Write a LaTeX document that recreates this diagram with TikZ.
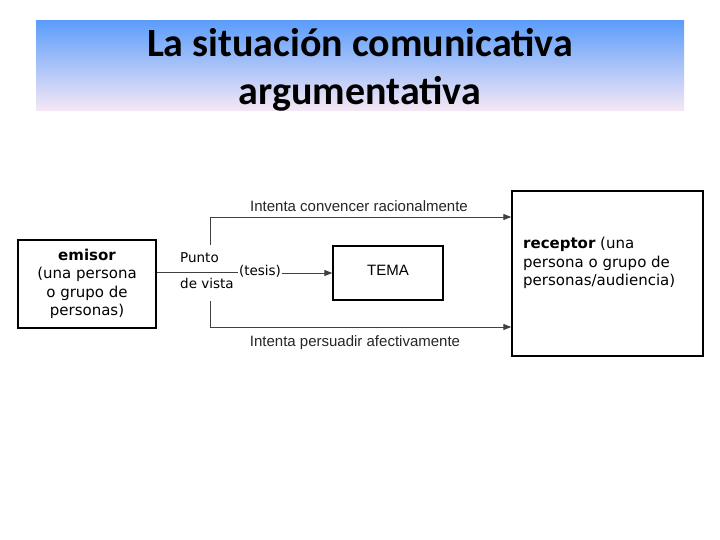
\documentclass[tikz,border=0pt]{standalone}
\usepackage{fontspec}
\setmainfont{DejaVu Sans}
\newfontfamily\titlefont{Carlito}
\newfontfamily\labelfont{Liberation Sans}
\usetikzlibrary{arrows.meta,calc}
\begin{document}
\begin{tikzpicture}[x=1pt,y=-1pt,
  boxnode/.style={draw=black,line width=1.4pt,rectangle,inner sep=0pt},
  conn/.style={draw=black!75,line width=0.9pt},
  arr/.style={conn,-{Triangle[length=8pt,width=6pt]}},
  smalllabel/.style={font=\labelfont\fontsize{15}{17}\selectfont,text=black!85,inner sep=1pt},
  midlabel/.style={font=\fontsize{13.5}{15}\selectfont,inner sep=0pt},
  boxtext/.style={font=\fontsize{15}{18.5}\selectfont,align=center,inner sep=0pt}
]
\useasboundingbox (0,0) rectangle (720,540);
\fill[white] (0,0) rectangle (720,540);
% title bar
\shade[top color={rgb,255:red,92;green,157;blue,250},middle color={rgb,255:red,175;green,205;blue,242},bottom color={rgb,255:red,246;green,232;blue,245}] (36,21) rectangle (684,111);
\node[font=\titlefont\bfseries\fontsize{40}{48}\selectfont,align=center] (title) at (360,70) {La situación comunicativa\\argumentativa};
% boxes
\node[boxnode,minimum width=138pt,minimum height=88pt] (emisor) at (87,284) {};
\node[boxtext] (emisortext) at (87,284) {\textbf{emisor}\\(una persona\\o grupo de\\personas)};
\node[boxnode,minimum width=110pt,minimum height=54pt] (tema) at (388,273) {};
\node[font=\labelfont\fontsize{15}{17}\selectfont,inner sep=0pt] (tematext) at (388,270) {TEMA};
\node[boxnode,minimum width=191pt,minimum height=165pt] (receptor) at (607.5,273.5) {};
\node[boxtext,align=left,anchor=west] (receptortext) at (523,263) {\textbf{receptor} (una\\persona o grupo de\\personas/audiencia)};
% punto de vista
\node[midlabel,anchor=west] (punto) at (180,258) {Punto};
\node[midlabel,anchor=west] (devista) at (180,283) {de vista};
\node[midlabel,inner sep=1pt] (tesis) at (260,271) {(tesis)};
% labels
\node[smalllabel] (conv) at (359,206) {Intenta convencer racionalmente};
\node[smalllabel] (pers) at (355,343) {Intenta persuadir afectivamente};
% coordinates
\coordinate (u1) at (210,245);
\coordinate (u2) at (210,217);
\coordinate (l1) at (210,301);
\coordinate (l2) at (210,327);
\coordinate (m1) at (238,272);
% connectors
\draw[conn] (emisor.east |- m1) -- (m1);
\draw[arr] (tesis.east |- tema.west) -- (tema.west);
\draw[arr] (u1) -- (u2) -- (u2 -| receptor.west);
\draw[arr] (l1) -- (l2) -- (l2 -| receptor.west);
\end{tikzpicture}
\end{document}
